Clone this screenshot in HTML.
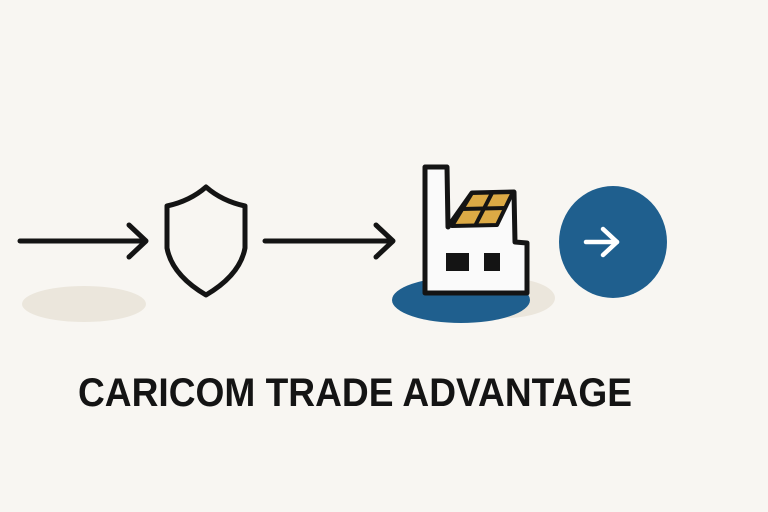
<!DOCTYPE html>
<html><head><meta charset="utf-8"><style>
html,body{margin:0;padding:0;background:#f8f6f2;}
svg{display:block;}
</style></head><body>
<svg width="768" height="512" viewBox="0 0 768 512" xmlns="http://www.w3.org/2000/svg">
<rect width="768" height="512" fill="#f8f6f2"/>
<ellipse cx="84" cy="304" rx="62" ry="18" fill="#ebe6dc"/>
<g stroke="#141414" stroke-width="5" stroke-linecap="round" stroke-linejoin="round" fill="none">
<line x1="20" y1="241" x2="145" y2="241"/>
<polyline points="129,225 146,241 129,257"/>
<line x1="265" y1="241" x2="392" y2="241"/>
<polyline points="376,225 393,241 376,257"/>
<path d="M206,187 Q190,201 167,206 L167,248 Q172,275 206,295 Q240,275 245,248 L245,206 Q222,201 206,187 Z"/>
</g>
<ellipse cx="505" cy="298" rx="50" ry="20" fill="#ebe6dc"/>
<ellipse cx="461" cy="300" rx="69" ry="23" fill="#1f5f8e"/>
<path d="M425,167 L447,167 L448,227 L472,193 L514,192 L515,242 L527,243 L527,293 L425,293 Z" fill="#fafafa" stroke="#141414" stroke-width="5" stroke-linejoin="round"/>
<path d="M472,193 L513,192 L497,225 L452,226 Z" fill="#dcaa45" stroke="#141414" stroke-width="4" stroke-linejoin="round"/>
<line x1="492" y1="193" x2="475" y2="226" stroke="#141414" stroke-width="4"/>
<line x1="462" y1="209" x2="505" y2="208" stroke="#141414" stroke-width="4"/>
<rect x="446" y="253" width="23" height="18" fill="#141414"/>
<rect x="484" y="253" width="16" height="18" fill="#141414"/>
<ellipse cx="613" cy="242" rx="54" ry="56" fill="#1f5f8e"/>
<g stroke="#ffffff" stroke-width="4.5" stroke-linecap="round" stroke-linejoin="round" fill="none">
<line x1="586" y1="242" x2="617" y2="242"/>
<polyline points="603,229 617,242 603,255"/>
</g>
<text x="78" y="406" font-family="Liberation Sans, sans-serif" font-weight="bold" font-size="40" fill="#141414" textLength="554" lengthAdjust="spacingAndGlyphs">CARICOM TRADE ADVANTAGE</text>
</svg>
</body></html>
